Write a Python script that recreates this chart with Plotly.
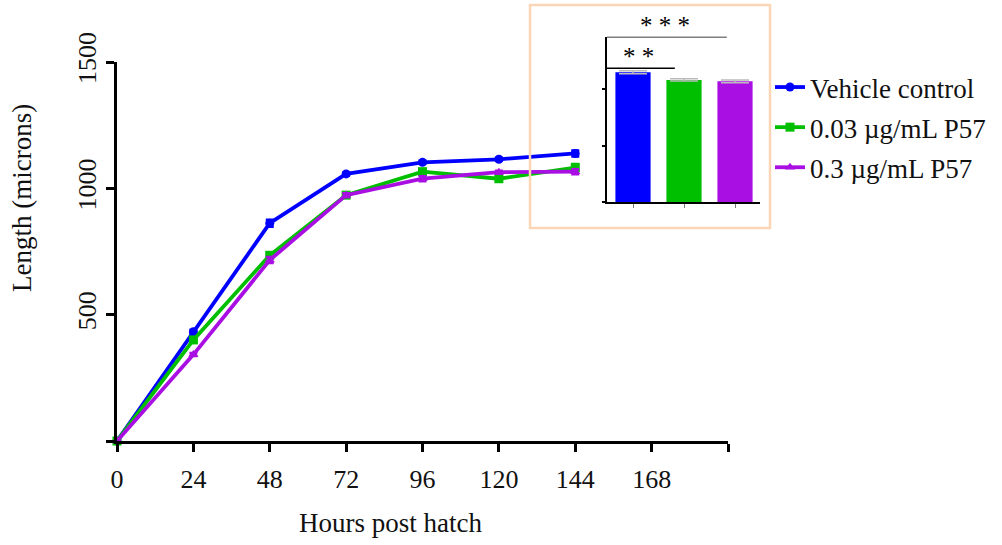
import plotly.graph_objects as go

# Larval length over time (microns)
hours = [0, 24, 48, 72, 96, 120, 144]
vehicle = [0, 432, 862, 1057, 1103, 1115, 1138]
p57_low = [0, 400, 735, 973, 1066, 1038, 1082]
p57_high = [0, 342, 716, 973, 1038, 1064, 1066]
vehicle_err = [0, 8, 14, 6, 6, 6, 12]
p57_low_err = [0, 8, 10, 6, 8, 8, 14]
p57_high_err = [0, 6, 12, 8, 10, 6, 10]

series_names = ["Vehicle control", "0.03 \u00b5g/mL P57", "0.3 \u00b5g/mL P57"]
colors = ["#0000FF", "#00BE00", "#A90FE3"]
symbols = ["circle", "square", "triangle-up"]

# Final length comparison shown in the inset
inset_groups = ["Vehicle", "0.03", "0.3"]
inset_values = [1148, 1080, 1068]
inset_err = [14, 10, 12]

x_ticks = [0, 24, 48, 72, 96, 120, 144, 168, 192]
x_ticktext = ["0", "24", "48", "72", "96", "120", "144", "168", ""]
y_ticks = [0, 500, 1000, 1500]
y_ticktext = ["", "500", "1000", "1500"]

FONT = "Liberation Serif, Times New Roman, serif"
W, H = 1002, 545

fig = go.Figure()

for name, ys, err, col, sym in zip(series_names, [vehicle, p57_low, p57_high],
                                   [vehicle_err, p57_low_err, p57_high_err],
                                   colors, symbols):
    fig.add_trace(go.Scatter(
        x=hours, y=ys, name=name, mode="lines+markers",
        line=dict(color=col, width=3.8),
        marker=dict(color=col, symbol=sym, size=9),
        error_y=dict(type="data", array=err, color=col, thickness=2.5, width=4),
        cliponaxis=False, legendgroup=name,
        xaxis="x", yaxis="y",
    ))

fig.add_trace(go.Bar(
    x=[0, 1, 2], y=inset_values, marker=dict(color=colors, line=dict(width=0)),
    width=0.69, showlegend=False,
    error_y=dict(type="data", array=inset_err, color="#BBBBBB", thickness=1.5, width=14),
    xaxis="x2", yaxis="y2",
))

def px_x(p):
    return p / W

def px_y(p):
    return 1 - p / H

tick_font = dict(family=FONT, size=26, color="#111111")
title_font = dict(family=FONT, size=27, color="#111111")

fig.update_layout(
    width=W, height=H,
    margin=dict(l=0, r=0, t=0, b=0, autoexpand=False),
    paper_bgcolor="white", plot_bgcolor="rgba(0,0,0,0)",
    font=dict(family=FONT, size=26, color="#111111"),
    showlegend=True,
    legend=dict(
        x=px_x(770), y=px_y(63), xanchor="left", yanchor="top",
        font=title_font,
        bgcolor="rgba(0,0,0,0)", tracegroupgap=2, itemwidth=30,
    ),
    xaxis=dict(
        domain=[px_x(117), px_x(728)], range=[0, 192],
        tickvals=x_ticks, ticktext=x_ticktext,
        showline=True, linecolor="black", linewidth=3,
        ticks="outside", ticklen=8, tickwidth=3, tickcolor="black",
        ticklabelstandoff=5,
        showgrid=False, zeroline=False, tickfont=tick_font,
        anchor="y", automargin=False,
    ),
    yaxis=dict(
        domain=[px_y(441), px_y(62)], range=[0, 1500],
        tickvals=y_ticks, ticktext=y_ticktext, tickangle=-90,
        showline=True, linecolor="black", linewidth=3,
        ticks="outside", ticklen=8, tickwidth=3, tickcolor="black",
        showgrid=False, zeroline=False, tickfont=tick_font,
        anchor="x", automargin=False,
    ),
    xaxis2=dict(
        domain=[px_x(607), px_x(760)], range=[-0.51, 2.49],
        tickvals=[0, 1, 2], ticktext=["", "", ""],
        showline=True, linecolor="black", linewidth=1.5,
        ticks="outside", ticklen=4, tickwidth=1, tickcolor="#777777",
        showgrid=False, zeroline=False, anchor="y2", automargin=False,
    ),
    yaxis2=dict(
        domain=[px_y(202), px_y(36.7)], range=[0, 1463],
        tickvals=[0, 500, 1000], ticktext=["", "", ""],
        showline=True, linecolor="black", linewidth=1.5,
        ticks="outside", ticklen=3, tickwidth=1.5, tickcolor="black",
        showgrid=False, zeroline=False, anchor="x2", automargin=False,
    ),
)

# Inset frame
fig.add_shape(type="rect", xref="paper", yref="paper",
              x0=px_x(530), x1=px_x(770), y0=px_y(228), y1=px_y(5),
              line=dict(color="#FBD6B6", width=2.5), fillcolor="rgba(0,0,0,0)",
              layer="above")

# Significance brackets in the inset
fig.add_shape(type="line", xref="x2", yref="y2", x0=-0.51, x1=0.82, y0=1183, y1=1183,
              line=dict(color="black", width=1.5))
fig.add_shape(type="line", xref="x2", yref="y2", x0=-0.51, x1=1.84, y0=1463, y1=1463,
              line=dict(color="black", width=1.5))
fig.add_annotation(x=0.1, y=1183, xref="x2", yref="y2", text="* *", showarrow=False,
                   yanchor="bottom", yshift=-4, font=dict(family=FONT, size=25, color="black"))
fig.add_annotation(x=0.63, y=1463, xref="x2", yref="y2", text="* * *", showarrow=False,
                   yanchor="bottom", yshift=-4, font=dict(family=FONT, size=25, color="black"))

# Axis titles
fig.add_annotation(x=px_x(390), y=px_y(523), xref="paper", yref="paper",
                   xanchor="center", yanchor="middle",
                   text="Hours post hatch", showarrow=False, font=title_font)
fig.add_annotation(x=px_x(22), y=px_y(198), xref="paper", yref="paper",
                   xanchor="center", yanchor="middle",
                   text="Length (microns)", showarrow=False, textangle=-90,
                   font=title_font)

fig.write_html("out.html")
